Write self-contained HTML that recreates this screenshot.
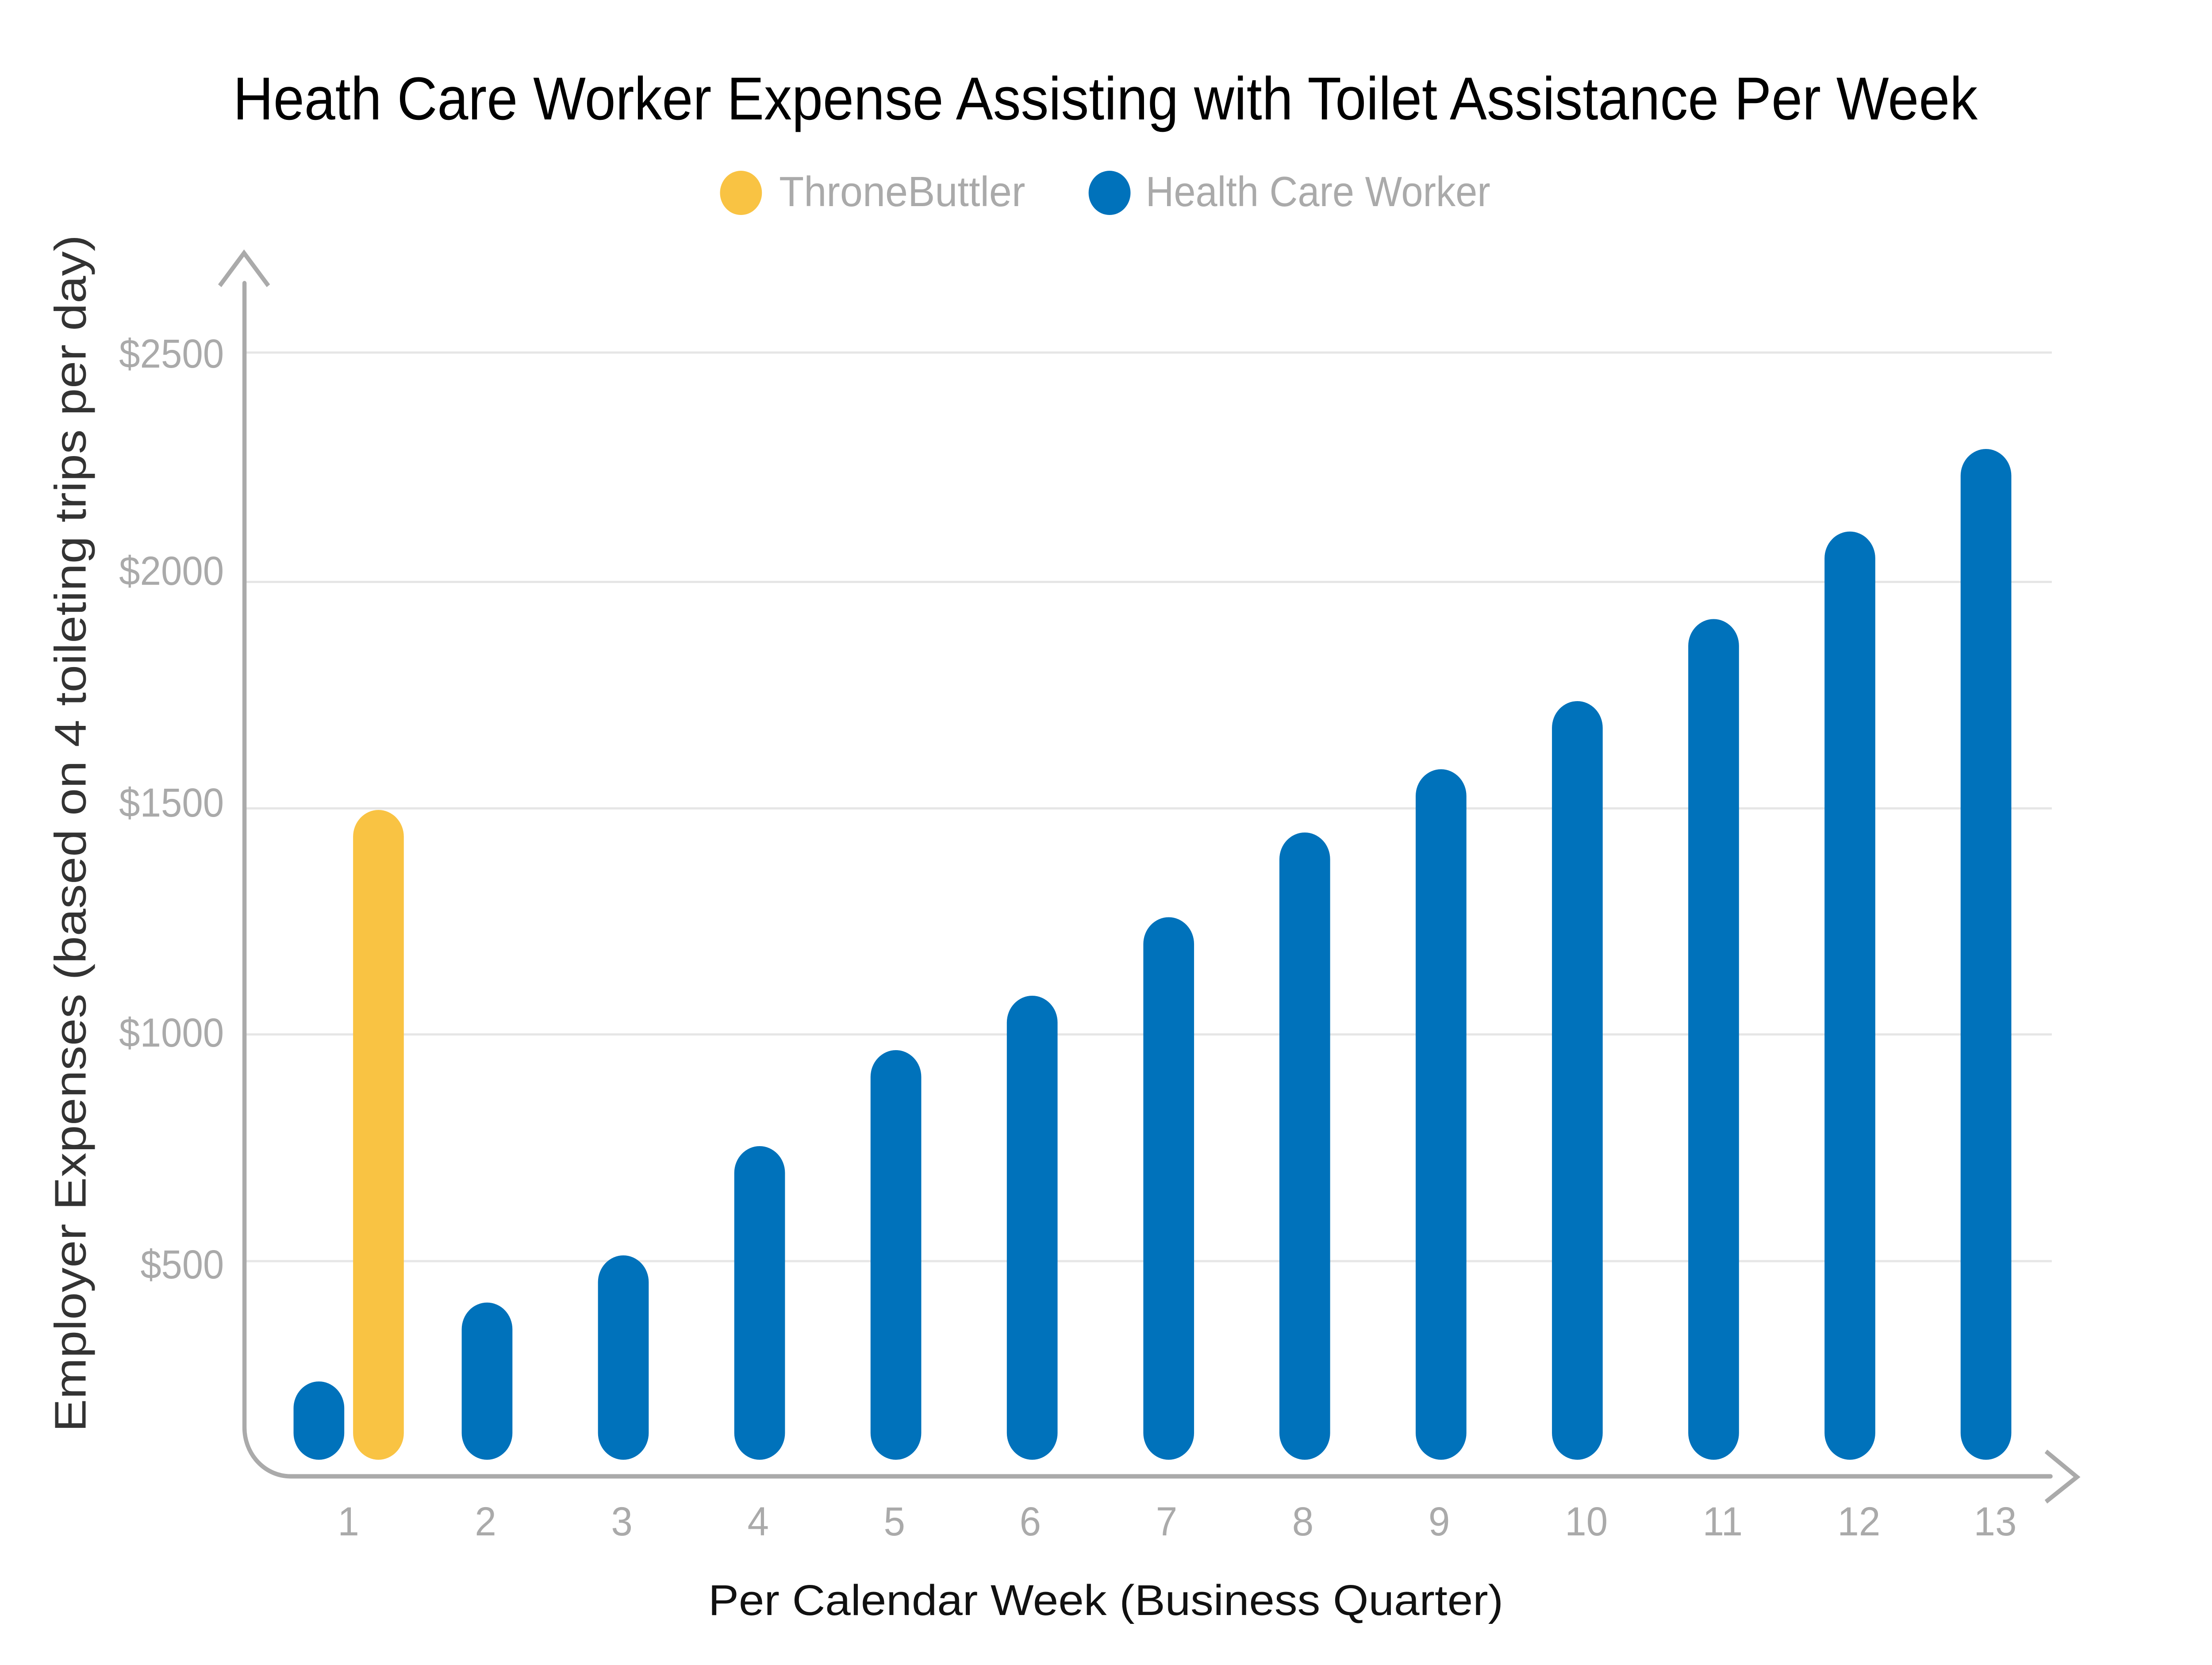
<!DOCTYPE html>
<html>
<head>
<meta charset="utf-8">
<style>
  html, body { margin: 0; padding: 0; width: 100%; height: 100%; overflow: hidden; background: #ffffff; }
  svg { position: absolute; left: 0; top: 0; width: 100vw; height: 100vh; display: block; }
  text { font-family: "Liberation Sans", "DejaVu Sans", sans-serif; }
</style>
</head>
<body>
<svg xmlns="http://www.w3.org/2000/svg" viewBox="0 0 5275 3764" preserveAspectRatio="none">
  <rect x="0" y="0" width="5275" height="3764" fill="#ffffff"/>

  <!-- Title -->
  <text x="556" y="270" font-size="137" fill="#000000" textLength="4160" lengthAdjust="spacingAndGlyphs">Heath Care Worker Expense Assisting with Toilet Assistance Per Week</text>

  <!-- Legend -->
  <circle cx="1767" cy="436" r="50" fill="#F9C343"/>
  <text x="1858" y="466" font-size="96" fill="#AAAAAA" textLength="587" lengthAdjust="spacingAndGlyphs">ThroneButtler</text>
  <circle cx="2646" cy="436" r="50" fill="#0072BB"/>
  <text x="2732" y="466" font-size="96" fill="#AAAAAA" textLength="822" lengthAdjust="spacingAndGlyphs">Health Care Worker</text>

  <!-- Gridlines -->
  <g stroke="#E6E6E6" stroke-width="5">
    <line x1="585" y1="797" x2="4893" y2="797"/>
    <line x1="585" y1="1315.5" x2="4893" y2="1315.5"/>
    <line x1="585" y1="1827.5" x2="4893" y2="1827.5"/>
    <line x1="585" y1="2338.5" x2="4893" y2="2338.5"/>
    <line x1="585" y1="2851" x2="4893" y2="2851"/>
  </g>

  <!-- Y tick labels -->
  <g font-size="92" fill="#AAAAAA" text-anchor="end">
    <text x="534" y="831" textLength="250" lengthAdjust="spacingAndGlyphs">$2500</text>
    <text x="534" y="1322" textLength="250" lengthAdjust="spacingAndGlyphs">$2000</text>
    <text x="534" y="1846" textLength="250" lengthAdjust="spacingAndGlyphs">$1500</text>
    <text x="534" y="2366" textLength="250" lengthAdjust="spacingAndGlyphs">$1000</text>
    <text x="534" y="2890" textLength="199" lengthAdjust="spacingAndGlyphs">$500</text>
  </g>

  <!-- Axes -->
  <path d="M583,640 L583,3227 A110,110 0 0 0 693,3337.5 L4890,3337.5" fill="none" stroke="#AAAAAA" stroke-width="10" stroke-linecap="round"/>
  <polyline points="524,646 582,572 640,646" fill="none" stroke="#AAAAAA" stroke-width="10" stroke-linejoin="miter"/>
  <polyline points="4879,3281 4953,3339 4879,3395" fill="none" stroke="#AAAAAA" stroke-width="10" stroke-linejoin="miter"/>

  <!-- Bars -->
  <g fill="#0072BB">
    <rect x="700" y="3123" width="121" height="177" rx="60.5" ry="60.5"/>
    <rect x="1101" y="2944.6" width="121" height="355.4" rx="60.5" ry="60.5"/>
    <rect x="1426" y="2838" width="121" height="462" rx="60.5" ry="60.5"/>
    <rect x="1751" y="2591" width="121" height="709" rx="60.5" ry="60.5"/>
    <rect x="2076" y="2374" width="121" height="926" rx="60.5" ry="60.5"/>
    <rect x="2401" y="2251" width="121" height="1049" rx="60.5" ry="60.5"/>
    <rect x="2726.5" y="2073.5" width="121" height="1226.5" rx="60.5" ry="60.5"/>
    <rect x="3051" y="1882" width="121" height="1418" rx="60.5" ry="60.5"/>
    <rect x="3376" y="1739" width="121" height="1561" rx="60.5" ry="60.5"/>
    <rect x="3701" y="1585" width="121" height="1715" rx="60.5" ry="60.5"/>
    <rect x="4026" y="1399.5" width="121" height="1900.5" rx="60.5" ry="60.5"/>
    <rect x="4351" y="1201.6" width="121" height="2098.4" rx="60.5" ry="60.5"/>
    <rect x="4675.5" y="1015" width="121" height="2285" rx="60.5" ry="60.5"/>
  </g>
  <rect x="842" y="1831" width="121" height="1469" rx="60.5" ry="60.5" fill="#F9C343"/>

  <!-- X tick labels -->
  <g font-size="92" fill="#AAAAAA" text-anchor="middle">
    <text x="831" y="3471">1</text>
    <text x="1158" y="3471">2</text>
    <text x="1483" y="3471">3</text>
    <text x="1808" y="3471">4</text>
    <text x="2133" y="3471">5</text>
    <text x="2457" y="3471">6</text>
    <text x="2782" y="3471">7</text>
    <text x="3107" y="3471">8</text>
    <text x="3432" y="3471">9</text>
    <text x="3783" y="3471">10</text>
    <text x="4108" y="3471">11</text>
    <text x="4433" y="3471">12</text>
    <text x="4758" y="3471">13</text>
  </g>

  <!-- Axis titles -->
  <text x="1689" y="3651" font-size="97" fill="#111111" textLength="1896" lengthAdjust="spacingAndGlyphs">Per Calendar Week (Business Quarter)</text>
  <text transform="translate(204,3237) rotate(-90)" x="0" y="0" font-size="106" fill="#333333" textLength="2706" lengthAdjust="spacingAndGlyphs">Employer Expenses (based on 4 toileting trips per day)</text>
</svg>
</body>
</html>
